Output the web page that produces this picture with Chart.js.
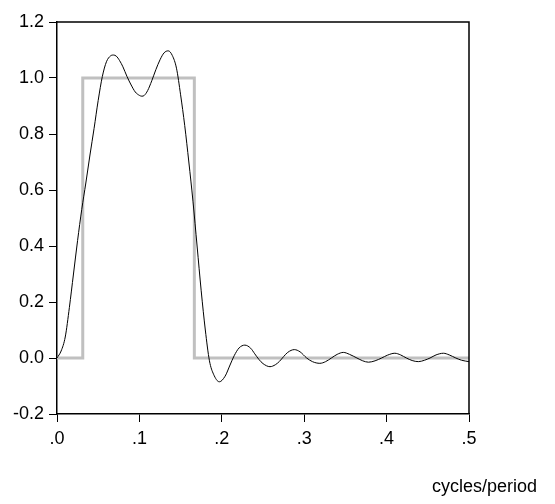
<!DOCTYPE html>
<html>
<head>
<meta charset="utf-8">
<script src="https://cdn.jsdelivr.net/npm/chart.js@4.4.1/dist/chart.umd.min.js"></script>
<style>
  html, body { margin: 0; padding: 0; background: #fff; }
  canvas { display: block; }
</style>
</head>
<body>
<canvas id="chart" width="555" height="504"></canvas>
<script>
// ideal band: gain 1 between 1/32 and 1/6 cycles/period
const idealFreq = [0, 0.03125, 0.16667, 0.5];
const idealGain = [0, 1, 0, 0];

// gain of the truncated filter
const filterFreq = [
  0, 0.005, 0.01, 0.015, 0.02, 0.025, 0.03, 0.035, 0.04, 0.045,
  0.05, 0.055, 0.06, 0.065, 0.0685, 0.072, 0.076, 0.08, 0.085, 0.09,
  0.095, 0.1, 0.103, 0.106, 0.11, 0.115, 0.12, 0.125, 0.13, 0.135,
  0.14, 0.145, 0.15, 0.155, 0.16, 0.165, 0.17, 0.175, 0.18, 0.185,
  0.19, 0.197, 0.204, 0.21, 0.215, 0.221, 0.228, 0.235, 0.24, 0.245,
  0.25, 0.2585, 0.265, 0.27, 0.275, 0.28, 0.288, 0.295, 0.303, 0.31,
  0.319, 0.326, 0.333, 0.34, 0.3475, 0.355, 0.364, 0.371, 0.378, 0.386,
  0.394, 0.401, 0.41, 0.417, 0.424, 0.431, 0.4385, 0.446, 0.4527, 0.46,
  0.469, 0.476, 0.484, 0.491, 0.5
];
const filterGain = [
  0, 0.025, 0.075, 0.18, 0.3, 0.42, 0.53, 0.625, 0.725, 0.82,
  0.92, 1.005, 1.058, 1.079, 1.082, 1.078, 1.062, 1.04, 1.005, 0.975,
  0.95, 0.938, 0.935, 0.938, 0.955, 0.99, 1.03, 1.065, 1.09, 1.097,
  1.08, 1.035, 0.94, 0.83, 0.7, 0.56, 0.4, 0.24, 0.1, -0.01,
  -0.058, -0.085, -0.065, -0.025, 0.008, 0.036, 0.046, 0.035, 0.015, -0.005,
  -0.02, -0.031, -0.024, -0.012, 0.005, 0.02, 0.03, 0.022, 0, -0.013,
  -0.019, -0.013, 0, 0.013, 0.02, 0.013, 0, -0.01, -0.015, -0.01,
  0, 0.01, 0.017, 0.011, 0, -0.009, -0.013, -0.008, 0, 0.011,
  0.017, 0.011, 0, -0.008, -0.013
];

const yTicks = { min: -0.2, max: 1.2, step: 0.2 };
const xTicks = { min: 0, max: 0.5, step: 0.1 };
const xTitle = 'cycles/period';

const toPoints = (xs, ys) => xs.map((x, i) => ({ x: x, y: ys[i] }));

const tickFont = { family: '"Liberation Sans", Arial, sans-serif', size: 18 };

// box around the plot plus the axis title under the right corner
const framePlugin = {
  id: 'frame',
  afterDraw(chart) {
    const { ctx, chartArea: a } = chart;
    ctx.save();
    ctx.strokeStyle = '#000';
    ctx.lineWidth = 1.5;
    ctx.beginPath();
    ctx.moveTo(a.left, a.top);
    ctx.lineTo(a.right, a.top);
    ctx.lineTo(a.right, a.bottom);
    ctx.stroke();
    ctx.fillStyle = '#000';
    ctx.font = '18px "Liberation Sans", Arial, sans-serif';
    ctx.textAlign = 'left';
    ctx.textBaseline = 'alphabetic';
    ctx.fillText(xTitle, a.right - 37, a.bottom + 78);
    ctx.restore();
  }
};

new Chart(document.getElementById('chart').getContext('2d'), {
  type: 'line',
  data: {
    datasets: [
      {
        label: 'filter',
        data: toPoints(filterFreq, filterGain),
        borderColor: '#000',
        borderWidth: 1,
        pointRadius: 0,
        fill: false,
        cubicInterpolationMode: 'monotone',
        order: 0
      },
      {
        label: 'ideal',
        data: toPoints(idealFreq, idealGain),
        borderColor: '#c0c0c0',
        borderWidth: 3,
        pointRadius: 0,
        fill: false,
        stepped: true,
        order: 1
      }
    ]
  },
  options: {
    responsive: false,
    animation: false,
    devicePixelRatio: 1,
    layout: { padding: { left: 0, right: 86, top: 22, bottom: 0 } },
    plugins: {
      legend: { display: false },
      tooltip: { enabled: false }
    },
    scales: {
      x: {
        type: 'linear',
        min: xTicks.min,
        max: xTicks.max,
        afterFit: (s) => { s.height = 90; },
        border: { display: true, color: '#000', width: 1.5 },
        grid: { drawOnChartArea: false, drawTicks: true, tickLength: 8, color: '#000', lineWidth: 1 },
        ticks: {
          stepSize: xTicks.step,
          color: '#000',
          font: tickFont,
          padding: 6,
          maxRotation: 0,
          callback: (v) => Number(v).toFixed(1).replace(/^0/, '')
        }
      },
      y: {
        type: 'linear',
        min: yTicks.min,
        max: yTicks.max,
        afterFit: (s) => { s.width = 57; },
        border: { display: true, color: '#000', width: 1.5 },
        grid: { drawOnChartArea: false, drawTicks: true, tickLength: 8, color: '#000', lineWidth: 1 },
        ticks: {
          stepSize: yTicks.step,
          color: '#000',
          font: tickFont,
          padding: 5,
          callback: (v) => (Math.abs(v) < 1e-9 ? 0 : Number(v)).toFixed(1)
        }
      }
    }
  },
  plugins: [framePlugin]
});
</script>
</body>
</html>
